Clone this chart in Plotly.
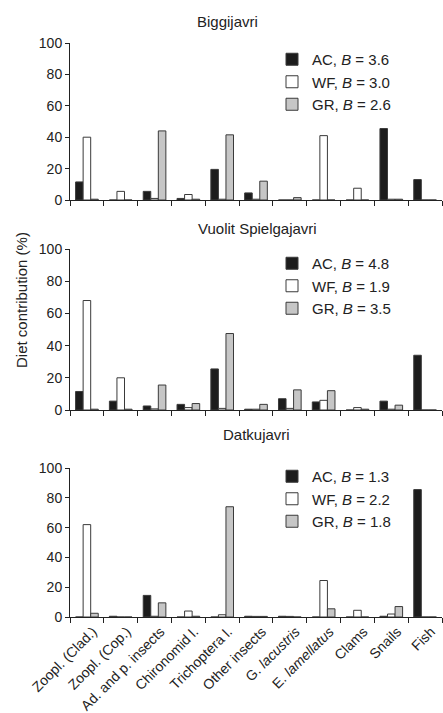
import plotly.graph_objects as go
from plotly.subplots import make_subplots

categories = ["Zoopl. (Clad.)", "Zoopl. (Cop.)", "Ad. and p. insects", "Chironomid l.",
              "Trichoptera l.", "Other insects", "G. <i>lacustris</i>", "E. <i>lamellatus</i>",
              "Clams", "Snails", "Fish"]

lakes = ["Biggijavri", "Vuolit Spielgajavri", "Datkujavri"]

# Biggijavri
big_ac = [11.5, 0, 5.5, 1, 19.5, 4.5, 0, 0, 0, 45.5, 13]
big_wf = [40, 5.5, 1, 3.5, 0.5, 0.5, 0, 41, 7.5, 0.5, 0]
big_gr = [0.5, 0, 44, 0.5, 41.5, 12, 1.5, 0, 0, 0.5, 0]
# Vuolit Spielgajavri
vs_ac = [11.5, 5.5, 2.5, 3.5, 25.5, 0.5, 7, 5, 0, 5.5, 34]
vs_wf = [68, 20, 0.7, 1.5, 1, 0.5, 1, 6, 1.5, 0.5, 0]
vs_gr = [0.5, 0.5, 15.5, 4, 47.5, 3.5, 12.5, 12, 0.5, 3, 0]
# Datkujavri
dk_ac = [0, 0.5, 14.5, 0, 0, 0.5, 0.5, 0, 0, 0.5, 85.5]
dk_wf = [62, 0, 0.5, 4, 1.5, 0.4, 0.4, 24.5, 4.5, 2, 0]
dk_gr = [2.5, 0, 9.5, 0.5, 74, 0.4, 0, 5.5, 0, 7, 0]

b_values = [("3.6", "3.0", "2.6"), ("4.8", "1.9", "3.5"), ("1.3", "2.2", "1.8")]
series_names = ["AC", "WF", "GR"]

data = [(big_ac, big_wf, big_gr), (vs_ac, vs_wf, vs_gr), (dk_ac, dk_wf, dk_gr)]
fills = ["#1c1c1c", "#ffffff", "#c6c6c6"]
line_col = "#3a3a3a"
txt = "#222222"
FONT = "Liberation Sans, Arial, sans-serif"

W, H = 443, 713
ml, mr, mt, mb = 70, 1, 43, 96
ph = H - mt - mb

def fy(py):
    return (H - mb - py) / ph

def fx(px):
    return (px - ml) / (W - ml - mr)

domains = [(fy(200), fy(43)), (fy(410), fy(249)), (fy(617), fy(468))]

fig = make_subplots(rows=3, cols=1)

legend_names = ["legend", "legend2", "legend3"]
for i in range(3):
    for j in range(3):
        fig.add_trace(go.Bar(
            x=categories, y=data[i][j],
            name=f"{series_names[j]}, <i>B</i> = {b_values[i][j]}",
            marker=dict(color=fills[j], line=dict(color=line_col, width=1)),
            legend=legend_names[i], showlegend=True,
        ), row=i + 1, col=1)

legend_tops = [43, 247, 460]
layout_legends = {}
for i, ln in enumerate(legend_names):
    layout_legends[ln] = dict(
        x=fx(272), xanchor="left", y=fy(legend_tops[i]), yanchor="top",
        font=dict(family=FONT, size=15, color=txt),
        bgcolor="rgba(0,0,0,0)", tracegroupgap=0,
    )

fig.update_layout(
    width=W, height=H,
    margin=dict(l=ml, r=mr, t=mt, b=mb, autoexpand=False),
    plot_bgcolor="white", paper_bgcolor="white",
    barmode="group", bargap=0.33, bargroupgap=0,
    font=dict(family=FONT, size=13, color=txt),
    **layout_legends,
)

for i in range(3):
    ax = "yaxis" if i == 0 else f"yaxis{i+1}"
    xa = "xaxis" if i == 0 else f"xaxis{i+1}"
    fig.layout[ax].update(
        domain=list(domains[i]), range=[0, 100], dtick=20, tick0=0,
        ticks="outside", ticklen=4, tickcolor=txt, showgrid=False,
        showline=True, linecolor=txt, linewidth=1, zeroline=False,
        automargin=False,
        tickfont=dict(family=FONT, size=14, color=txt),
    )
    fig.layout[xa].update(
        domain=[0, 1], showline=True, linecolor=txt, linewidth=1,
        ticks="outside", ticklen=5, tickcolor=txt, tickson="boundaries",
        showgrid=False, tickangle=-45, automargin=False,
        showticklabels=(i == 2),
        ticklabelshift=6, ticklabelstandoff=0,
        tickfont=dict(family=FONT, size=14, color=txt),
    )

title_pos = [(227, 21), (257, 228), (256, 435)]
for i, name in enumerate(lakes):
    px, py = title_pos[i]
    fig.add_annotation(
        text=name, xref="paper", yref="paper", x=fx(px), y=fy(py),
        xanchor="center", yanchor="middle", showarrow=False,
        font=dict(family=FONT, size=15, color=txt),
    )

fig.add_annotation(
    text="Diet contribution (%)", xref="paper", yref="paper",
    x=fx(21), y=fy(300), xanchor="center", yanchor="middle",
    textangle=-90, showarrow=False,
    font=dict(family=FONT, size=15, color=txt),
)

fig.write_html("out.html")
